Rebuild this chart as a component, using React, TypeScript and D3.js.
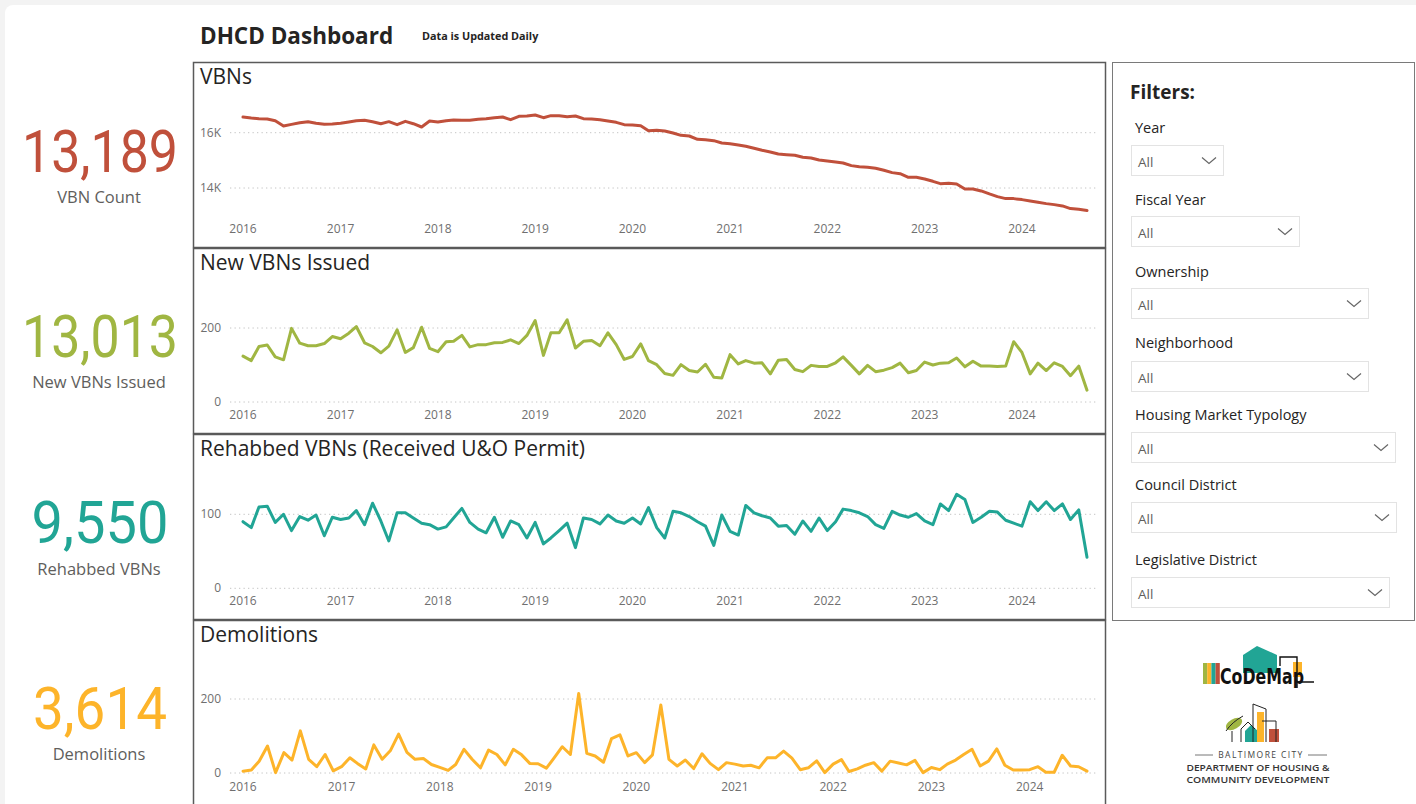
import React from 'react';
import * as d3 from 'd3';

const W = 1416;
const H = 804;
const START = new Date(2016, 0, 1);
const yearTicks = [2016, 2017, 2018, 2019, 2020, 2021, 2022, 2023, 2024];

const vbnCount = [
  16567, 16531, 16507, 16495, 16435, 16242, 16302, 16363, 16399, 16339, 16302, 16314,
  16339, 16387, 16435, 16447, 16399, 16326, 16399, 16290, 16411, 16326, 16206, 16423,
  16387, 16435, 16459, 16447, 16447, 16483, 16507, 16543, 16567, 16471, 16592, 16604,
  16640, 16543, 16616, 16616, 16579, 16604, 16507, 16495, 16471, 16423, 16375, 16290,
  16278, 16254, 16073, 16086, 16061, 15989, 15905, 15881, 15760, 15748, 15712, 15628,
  15604, 15555, 15507, 15435, 15363, 15302, 15230, 15206, 15182, 15110, 15086, 15013,
  14977, 14941, 14905, 14809, 14772, 14748, 14712, 14640, 14556, 14519, 14387, 14387,
  14327, 14242, 14158, 14170, 14146, 13965, 13965, 13893, 13785, 13688, 13616, 13616,
  13580, 13532, 13484, 13435, 13399, 13351, 13255, 13231, 13189,
];

const newVbns = [
  124, 112, 150, 154, 122, 114, 199, 159, 152, 152, 158, 177,
  171, 186, 204, 160, 150, 133, 151, 195, 134, 147, 202, 145,
  136, 163, 164, 180, 149, 155, 155, 160, 161, 168, 158, 180,
  220, 126, 187, 187, 222, 146, 164, 166, 152, 187, 155, 115,
  123, 157, 112, 101, 77, 72, 101, 85, 81, 102, 67, 65,
  128, 103, 112, 105, 106, 76, 113, 115, 88, 82, 99, 96,
  96, 106, 122, 99, 76, 99, 82, 86, 93, 105, 79, 85,
  108, 100, 105, 106, 119, 95, 110, 97, 97, 96, 97, 163,
  134, 76, 105, 85, 106, 96, 71, 97, 32,
];

const rehabbed = [
  90, 82, 110, 111, 89, 100, 78, 97, 92, 99, 71, 96,
  93, 95, 105, 86, 115, 91, 64, 102, 102, 95, 88, 86,
  80, 83, 95, 108, 89, 80, 75, 96, 69, 91, 86, 68,
  89, 60, 68, 78, 88, 55, 95, 93, 87, 99, 91, 88,
  95, 87, 109, 82, 68, 104, 102, 97, 90, 84, 58, 99,
  77, 72, 112, 102, 98, 95, 84, 85, 73, 91, 77, 95,
  78, 90, 107, 105, 102, 97, 86, 81, 104, 99, 96, 101,
  91, 86, 114, 105, 127, 120, 89, 96, 104, 103, 92, 88,
  84, 117, 105, 117, 105, 114, 93, 106, 42,
];

const demolitions = [
  5, 8, 32, 73, 1, 55, 35, 114, 37, 17, 50, 6,
  17, 41, 26, 11, 76, 37, 60, 105, 56, 37, 39, 23,
  15, 7, 23, 64, 37, 14, 62, 50, 22, 64, 49, 26,
  25, 13, 40, 71, 50, 215, 53, 46, 29, 93, 103, 46,
  55, 28, 49, 184, 37, 19, 35, 12, 52, 26, 9, 28,
  24, 19, 21, 14, 41, 41, 59, 40, 9, 14, 33, 1,
  24, 36, 4, 11, 21, 28, 5, 32, 27, 22, 34, 1,
  15, 9, 24, 35, 50, 64, 19, 32, 65, 21, 8, 8,
  9, 17, 2, 2, 48, 19, 17, 5,
];

const kpiValues = ['13,189', '13,013', '9,550', '3,614'];
const kpiLabels = ['VBN Count', 'New VBNs Issued', 'Rehabbed VBNs', 'Demolitions'];
const panelTitles = ['VBNs', 'New VBNs Issued', 'Rehabbed VBNs (Received U&O Permit)', 'Demolitions'];
const filterLabels = ['Year', 'Fiscal Year', 'Ownership', 'Neighborhood', 'Housing Market Typology', 'Council District', 'Legislative District'];

const RED = '#C0503B';
const GREEN = '#A0B642';
const TEAL = '#21A595';
const YELLOW = '#FDB42A';

const FONT = '"Open Sans", "Noto Sans", sans-serif';
const TEXT_DARK = '#252423';
const TEXT_GRAY = '#605E5C';

type PanelCfg = {
  title: string;
  top: number;
  values: number[];
  color: string;
  ticks: number[];
  domain: [number, number];
  rangeOff: [number, number];
  fmt: (v: number) => string;
};

const panels: PanelCfg[] = [
  { title: panelTitles[0], top: 62, values: vbnCount, color: RED, ticks: [14000, 16000], domain: [14000, 16000], rangeOff: [126, 70.7], fmt: (v) => `${v / 1000}K` },
  { title: panelTitles[1], top: 248, values: newVbns, color: GREEN, ticks: [0, 200], domain: [0, 200], rangeOff: [154, 80], fmt: (v) => `${v}` },
  { title: panelTitles[2], top: 434, values: rehabbed, color: TEAL, ticks: [0, 100], domain: [0, 100], rangeOff: [154.3, 80.3], fmt: (v) => `${v}` },
  { title: panelTitles[3], top: 620, values: demolitions, color: YELLOW, ticks: [0, 200], domain: [0, 200], rangeOff: [153, 79], fmt: (v) => `${v}` },
];

const PANEL_X0 = 193.5;
const PANEL_W = 912;
const PANEL_H = 185;
const PLOT_X0 = 243;
const PLOT_X1 = 1087;

function ChartPanel({ cfg }: { cfg: PanelCfg }) {
  const n = cfg.values.length;
  const dates = d3.range(n).map((i) => d3.timeMonth.offset(START, i));
  const x = d3.scaleTime().domain([dates[0], dates[n - 1]]).range([PLOT_X0, PLOT_X1]);
  const y = d3.scaleLinear().domain(cfg.domain).range([cfg.top + cfg.rangeOff[0], cfg.top + cfg.rangeOff[1]]);
  const line = d3
    .line<number>()
    .x((_, i) => x(dates[i]))
    .y((d) => y(d));
  return (
    <g>
      <rect x={PANEL_X0} y={cfg.top + 0.5} width={PANEL_W} height={PANEL_H} fill="#fff" stroke="#5a5a5a" strokeWidth={1.5} />
      <text x={200} y={cfg.top + 22} fontFamily={FONT} fontSize={21} fill={TEXT_DARK}>
        {cfg.title}
      </text>
      {cfg.ticks.map((t) => (
        <g key={t}>
          <line x1={230} x2={1097} y1={y(t)} y2={y(t)} stroke="#c4c4c4" strokeWidth={1} strokeDasharray="1.3 3.2" />
          <text x={221} y={y(t) + 4} textAnchor="end" fontFamily={FONT} fontSize={12} fill="#6f6f6f">
            {cfg.fmt(t)}
          </text>
        </g>
      ))}
      {yearTicks.map((yr) => (
        <text key={yr} x={x(new Date(yr, 0, 1))} y={cfg.top + 171} textAnchor="middle" fontFamily={FONT} fontSize={12} fill="#6f6f6f">
          {yr}
        </text>
      ))}
      <path d={line(cfg.values) || ''} fill="none" stroke={cfg.color} strokeWidth={3} strokeLinejoin="round" strokeLinecap="round" />
    </g>
  );
}

const kpiColors = [RED, GREEN, TEAL, YELLOW];
const kpiBaselines = [172, 357, 543, 729];
const kpiWidths = [156, 156, 137, 134];
const kpiLabelBaselines = [203, 388, 575, 760];

function Kpis() {
  return (
    <g>
      {kpiValues.map((v, i) => (
        <g key={v}>
          <text
            x={100}
            y={kpiBaselines[i]}
            textAnchor="middle"
            fontFamily='Roboto, "Open Sans", sans-serif'
            fontWeight={400}
            fontSize={60}
            fill={kpiColors[i]}
            textLength={kpiWidths[i]}
            lengthAdjust="spacingAndGlyphs"
          >
            {v}
          </text>
          <text x={99} y={kpiLabelBaselines[i]} textAnchor="middle" fontFamily={FONT} fontSize={16.5} fill={TEXT_GRAY}>
            {kpiLabels[i]}
          </text>
        </g>
      ))}
    </g>
  );
}

const filterLabelY = [133, 205, 277, 348, 420, 490, 565];
const filterBoxTop = [145, 216, 288, 361, 432, 502, 577];
const filterBoxRight = [1223, 1299, 1368, 1368, 1395, 1396, 1389];

function Filters() {
  return (
    <g>
      <rect x={1112.5} y={62.5} width={302} height={558} fill="#fff" stroke="#7a7a7a" strokeWidth={1} />
      <text x={1130} y={99} fontFamily={FONT} fontWeight={700} fontSize={19} fill={TEXT_DARK}>
        Filters:
      </text>
      {filterLabels.map((lab, i) => {
        const bx = 1131.5;
        const by = filterBoxTop[i] + 0.5;
        const bw = filterBoxRight[i] - 1131;
        const cx = filterBoxRight[i] - 14;
        const cy = by + 15;
        return (
          <g key={lab}>
            <text x={1135} y={filterLabelY[i]} fontFamily={FONT} fontSize={14.5} fill={TEXT_DARK}>
              {lab}
            </text>
            <rect x={bx} y={by} width={bw} height={30} fill="#fff" stroke="#e3e3e3" strokeWidth={1} />
            <text x={1138} y={by + 21} fontFamily={FONT} fontSize={13.5} fill={TEXT_GRAY}>
              All
            </text>
            <path d={`M${cx - 7},${cy - 3} L${cx},${cy + 3} L${cx + 7},${cy - 3}`} fill="none" stroke="#666" strokeWidth={1.2} />
          </g>
        );
      })}
    </g>
  );
}

function Logos() {
  const stripeColors = [GREEN, YELLOW, TEAL, RED];
  return (
    <g>
      {/* CoDeMap */}
      {stripeColors.map((c, i) => (
        <rect key={c} x={1203 + i * 4.2} y={663} width={4.2} height={21} fill={c} />
      ))}
      <polygon points="1243,655 1257,646 1277,655 1277,673 1243,673" fill={TEAL} />
      <rect x={1293} y={662} width={9} height={15} fill={YELLOW} />
      <path d="M1280,666 V657 H1297 V688 M1297,682 H1314" fill="none" stroke="#111" strokeWidth={1.4} />
      <text x={1220} y={684} fontFamily='"Liberation Sans Narrow", "DejaVu Sans Condensed", Roboto, sans-serif' fontWeight={700} fontSize={21} fill="#111" textLength={84} lengthAdjust="spacingAndGlyphs">
        CoDeMap
      </text>
      {/* DHCD logo */}
      <ellipse cx={1234} cy={724} rx={9} ry={5} transform="rotate(-30 1234 724)" fill={GREEN} />
      <path d="M1226,731 Q1232,722 1243,716" fill="none" stroke="#222" strokeWidth={1} />
      <path d="M1232,742 V731" fill="none" stroke="#222" strokeWidth={1} />
      <polygon points="1245,742 1245,731 1251,725 1258,731 1258,742" fill={TEAL} />
      <rect x={1257} y={712} width={7} height={30} fill={YELLOW} />
      <rect x={1269} y={729} width={10} height={13} fill={RED} />
      <path d="M1241,742 V729 L1248,722 L1255,729 M1253,742 V704 L1266,709 V742 M1262,721 H1276 V742" fill="none" stroke="#222" strokeWidth={1} />
      <line x1={1195} x2={1213} y1={755} y2={755} stroke="#777" strokeWidth={1} />
      <line x1={1308} x2={1327} y1={755} y2={755} stroke="#777" strokeWidth={1} />
      <text x={1261} y={758} textAnchor="middle" fontFamily={FONT} fontSize={8.5} fill="#444" letterSpacing={1.4}>
        BALTIMORE CITY
      </text>
      <text x={1258} y={770.5} textAnchor="middle" fontFamily={FONT} fontWeight={600} fontSize={9} fill="#333" textLength={143} lengthAdjust="spacingAndGlyphs">
        DEPARTMENT OF HOUSING &amp;
      </text>
      <text x={1258} y={782.5} textAnchor="middle" fontFamily={FONT} fontWeight={600} fontSize={9} fill="#333" textLength={143} lengthAdjust="spacingAndGlyphs">
        COMMUNITY DEVELOPMENT
      </text>
    </g>
  );
}

export default function App() {
  return (
    <svg width={W} height={H} style={{ position: 'absolute', left: 0, top: 0, display: 'block' }} xmlns="http://www.w3.org/2000/svg">
      <rect x={0} y={0} width={W} height={H} fill="#f3f3f3" />
      <rect x={5} y={5} width={W + 20} height={H + 20} rx={8} fill="#fff" />
      <text x={200} y={44} fontFamily={FONT} fontWeight={700} fontSize={22.5} fill={TEXT_DARK}>
        DHCD Dashboard
      </text>
      <text x={422} y={40} fontFamily={FONT} fontWeight={700} fontSize={10.8} fill={TEXT_DARK}>
        Data is Updated Daily
      </text>
      <Kpis />
      {panels.map((p) => (
        <ChartPanel key={p.title} cfg={p} />
      ))}
      <Filters />
      <Logos />
    </svg>
  );
}
